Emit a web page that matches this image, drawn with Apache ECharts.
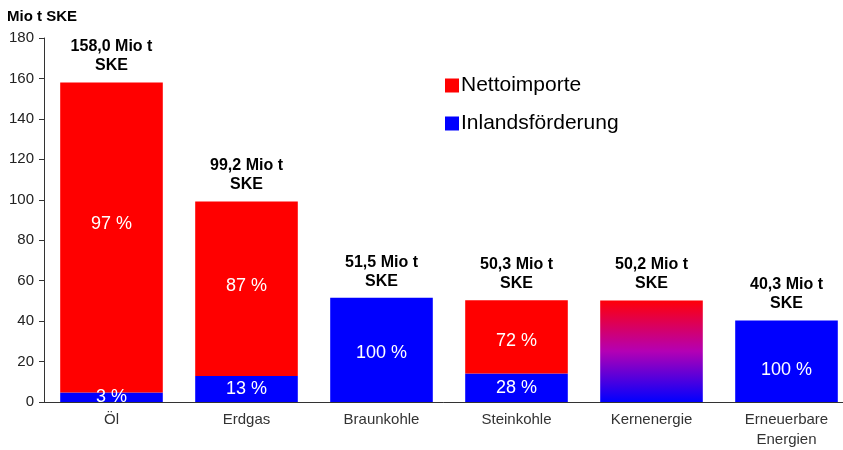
<!DOCTYPE html>
<html>
<head>
<meta charset="utf-8">
<script src="https://cdn.jsdelivr.net/npm/echarts@6/dist/echarts.min.js"></script>
<style>
  html, body { margin: 0; padding: 0; background: #fff; overflow: hidden; }
  #chart { width: 843px; height: 450px; }
</style>
</head>
<body>
<div id="chart"></div>
<script>
// Primärenergie: Inlandsförderung und Nettoimporte (Mio t SKE)
const categories = ['Öl', 'Erdgas', 'Braunkohle', 'Steinkohle', 'Kernenergie', 'Erneuerbare\nEnergien'];
const domestic = [4.7, 12.9, 51.5, 14.1, 0, 40.3];
const imports = [153.3, 86.3, 0, 36.2, 0, 0];
const nuclear = [0, 0, 0, 0, 50.2, 0];
const totalLabels = ['158,0', '99,2', '51,5', '50,3', '50,2', '40,3'];
const pctDomestic = ['3 %', '13 %', '100 %', '28 %', '', '100 %'];
const pctImports = ['97 %', '87 %', '', '72 %', '', ''];
const yTicks = [0, 20, 40, 60, 80, 100, 120, 140, 160, 180];

const FONT = '"Liberation Sans", Arial, sans-serif';
const RED = '#ff0000';
const BLUE = '#0000ff';

// vertical nudges for the percentage labels inside the bars (px)
const domesticLabelShift = { 2: 3, 5: 9 };
const importLabelShift = { 0: -13, 1: -3, 3: 4 };

const chart = echarts.init(document.getElementById('chart'), null, { renderer: 'canvas' });

const pctLabel = (arr) => ({
  show: true,
  position: 'inside',
  color: '#fff',
  fontSize: 18,
  fontFamily: FONT,
  formatter: (p) => arr[p.dataIndex]
});

const withShift = (values, shifts) => values.map((v, i) =>
  shifts[i] !== undefined ? { value: v, label: { offset: [0, shifts[i]] } } : v);

chart.setOption({
  animation: false,
  backgroundColor: '#fff',
  textStyle: { fontFamily: FONT },
  grid: { left: 44, width: 810, top: 38, bottom: 48, containLabel: false, outerBoundsMode: 'none' },
  legend: {
    orient: 'vertical',
    left: 440,
    top: 70,
    itemWidth: 14,
    itemHeight: 14,
    itemGap: 17,
    icon: 'rect',
    data: ['Nettoimporte', 'Inlandsförderung'],
    textStyle: { fontSize: 21, color: '#000', fontFamily: FONT, padding: [0, 0, 0, -3] }
  },
  xAxis: {
    type: 'category',
    data: categories,
    axisLine: { lineStyle: { color: '#333', width: 1 } },
    axisTick: { show: false },
    axisLabel: { color: '#333', fontSize: 15, fontFamily: FONT, margin: 8, lineHeight: 20 }
  },
  yAxis: {
    type: 'value',
    min: yTicks[0],
    max: yTicks[yTicks.length - 1],
    interval: 20,
    name: 'Mio t SKE',
    nameLocation: 'end',
    nameGap: 0,
    nameTextStyle: { fontSize: 15, fontWeight: 'bold', color: '#000', align: 'left', padding: [0, 0, 14, -37] },
    axisLine: { show: true, lineStyle: { color: '#333', width: 1 } },
    axisTick: { show: true, length: 5, lineStyle: { color: '#333' } },
    splitLine: { show: false },
    axisLabel: { color: '#222', fontSize: 15, fontFamily: FONT, margin: 10 }
  },
  series: [
    {
      name: 'Inlandsförderung',
      type: 'bar',
      stack: 'total',
      barWidth: '76%',
      itemStyle: { color: BLUE },
      label: pctLabel(pctDomestic),
      data: withShift(domestic, domesticLabelShift)
    },
    {
      name: 'Nettoimporte',
      type: 'bar',
      stack: 'total',
      itemStyle: { color: RED },
      label: pctLabel(pctImports),
      data: withShift(imports, importLabelShift)
    },
    {
      name: 'Kernenergie',
      type: 'bar',
      stack: 'total',
      itemStyle: {
        color: new echarts.graphic.LinearGradient(0, 0, 0, 1, [
          { offset: 0, color: '#ff0008' },
          { offset: 0.5, color: '#b400b4' },
          { offset: 1, color: '#0000ff' }
        ])
      },
      label: {
        show: true,
        position: 'top',
        distance: 7,
        color: '#000',
        fontSize: 16,
        fontWeight: 'bold',
        fontFamily: FONT,
        lineHeight: 19,
        align: 'center',
        formatter: (p) => totalLabels[p.dataIndex] + ' Mio t\nSKE'
      },
      data: nuclear
    }
  ]
});
</script>
</body>
</html>
